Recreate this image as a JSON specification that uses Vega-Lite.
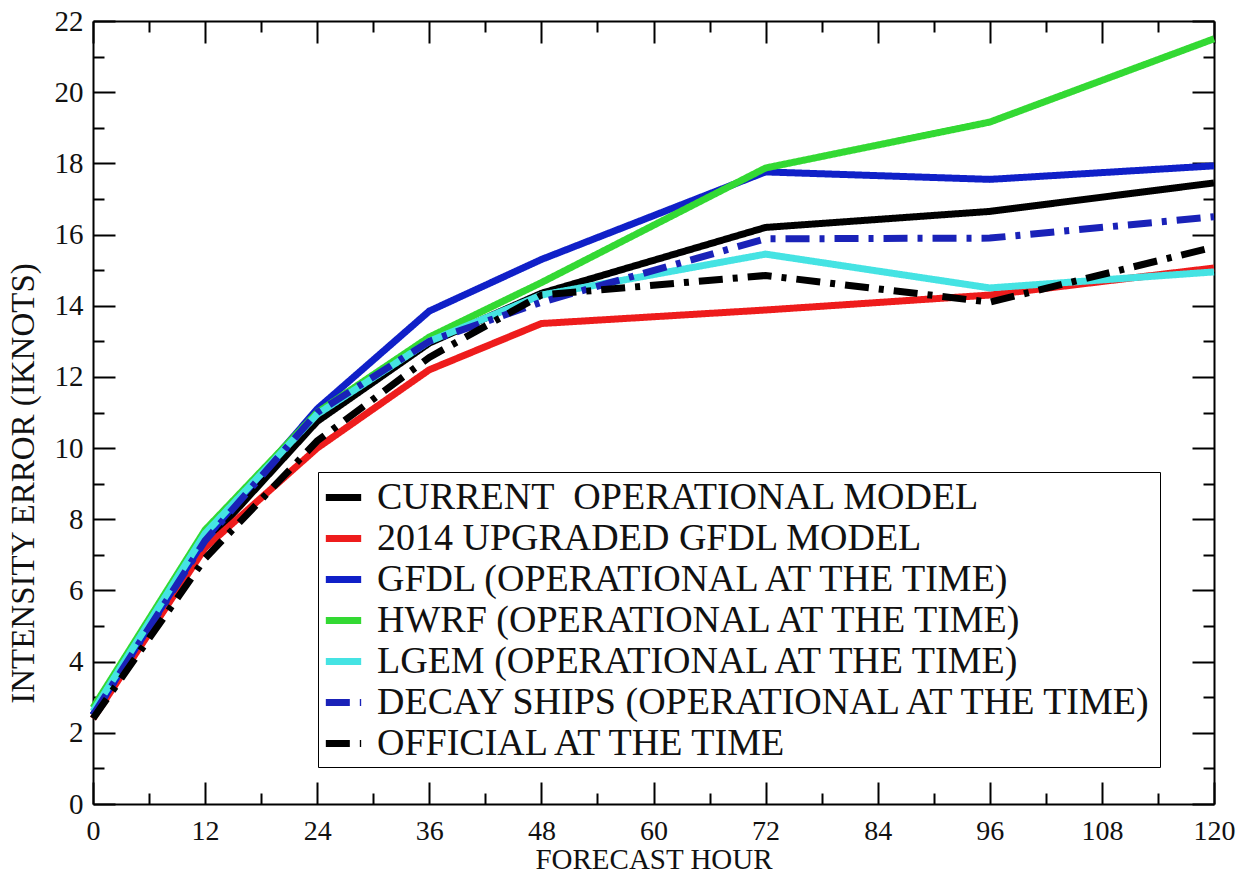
{
  "$schema": "https://vega.github.io/schema/vega-lite/v6.json",
  "autosize": "none",
  "width": 1121,
  "height": 783,
  "padding": {"left": 93, "top": 21, "right": 26, "bottom": 72},
  "background": "white",
  "config": {
    "view": {"stroke": null},
    "font": "Liberation Serif",
    "axis": {"grid": false, "domainColor": "black", "domainWidth": 2, "tickColor": "black", "tickWidth": 2, "labelFont": "Liberation Serif", "labelColor": "#111", "titleFont": "Liberation Serif", "titleColor": "#111", "titleFontWeight": "normal"}
  },
  "data": {
    "values": [
      {"hour": 0, "model": "CURRENT", "err": 2.5},
      {"hour": 12, "model": "CURRENT", "err": 7.3},
      {"hour": 24, "model": "CURRENT", "err": 10.75},
      {"hour": 36, "model": "CURRENT", "err": 12.95},
      {"hour": 48, "model": "CURRENT", "err": 14.35},
      {"hour": 72, "model": "CURRENT", "err": 16.2},
      {"hour": 96, "model": "CURRENT", "err": 16.65},
      {"hour": 120, "model": "CURRENT", "err": 17.45},
      {"hour": 0, "model": "UPGRADED", "err": 2.4},
      {"hour": 12, "model": "UPGRADED", "err": 7.2},
      {"hour": 24, "model": "UPGRADED", "err": 10.0},
      {"hour": 36, "model": "UPGRADED", "err": 12.2},
      {"hour": 48, "model": "UPGRADED", "err": 13.5},
      {"hour": 72, "model": "UPGRADED", "err": 13.88},
      {"hour": 96, "model": "UPGRADED", "err": 14.3},
      {"hour": 120, "model": "UPGRADED", "err": 15.06},
      {"hour": 0, "model": "GFDL", "err": 2.5},
      {"hour": 12, "model": "GFDL", "err": 7.45},
      {"hour": 24, "model": "GFDL", "err": 11.1},
      {"hour": 36, "model": "GFDL", "err": 13.85},
      {"hour": 48, "model": "GFDL", "err": 15.3},
      {"hour": 72, "model": "GFDL", "err": 17.76},
      {"hour": 96, "model": "GFDL", "err": 17.55},
      {"hour": 120, "model": "GFDL", "err": 17.93},
      {"hour": 0, "model": "HWRF", "err": 2.7},
      {"hour": 12, "model": "HWRF", "err": 7.7},
      {"hour": 24, "model": "HWRF", "err": 11.0},
      {"hour": 36, "model": "HWRF", "err": 13.12},
      {"hour": 48, "model": "HWRF", "err": 14.65},
      {"hour": 72, "model": "HWRF", "err": 17.87},
      {"hour": 96, "model": "HWRF", "err": 19.16},
      {"hour": 120, "model": "HWRF", "err": 21.5},
      {"hour": 0, "model": "LGEM", "err": 2.6},
      {"hour": 12, "model": "LGEM", "err": 7.6},
      {"hour": 24, "model": "LGEM", "err": 10.95},
      {"hour": 36, "model": "LGEM", "err": 13.0},
      {"hour": 48, "model": "LGEM", "err": 14.3},
      {"hour": 72, "model": "LGEM", "err": 15.45},
      {"hour": 96, "model": "LGEM", "err": 14.5},
      {"hour": 120, "model": "LGEM", "err": 14.95},
      {"hour": 0, "model": "DECAY", "err": 2.5},
      {"hour": 12, "model": "DECAY", "err": 7.4},
      {"hour": 24, "model": "DECAY", "err": 11.0},
      {"hour": 36, "model": "DECAY", "err": 13.0},
      {"hour": 48, "model": "DECAY", "err": 14.1},
      {"hour": 72, "model": "DECAY", "err": 15.88},
      {"hour": 96, "model": "DECAY", "err": 15.9},
      {"hour": 120, "model": "DECAY", "err": 16.5},
      {"hour": 0, "model": "OFFICIAL", "err": 2.4},
      {"hour": 12, "model": "OFFICIAL", "err": 6.9},
      {"hour": 24, "model": "OFFICIAL", "err": 10.2},
      {"hour": 36, "model": "OFFICIAL", "err": 12.55},
      {"hour": 48, "model": "OFFICIAL", "err": 14.3},
      {"hour": 72, "model": "OFFICIAL", "err": 14.85},
      {"hour": 96, "model": "OFFICIAL", "err": 14.1},
      {"hour": 120, "model": "OFFICIAL", "err": 15.65}
    ]
  },
  "layer": [
    {
      "mark": {"type": "line"},
      "encoding": {
        "x": {
          "field": "hour", "type": "quantitative",
          "scale": {"domain": [0, 120], "nice": false, "zero": false},
          "axis": {
            "orient": "bottom",
            "title": "FORECAST HOUR",
            "titleFontSize": 29,
            "titlePadding": 0,
            "values": [0, 12, 24, 36, 48, 60, 72, 84, 96, 108, 120],
            "labelFontSize": 28,
            "labelPadding": 35,
            "labelFlush": false,
            "labelOverlap": false,
            "tickSize": -22
          }
        },
        "y": {
          "field": "err", "type": "quantitative",
          "scale": {"domain": [0, 22], "nice": false, "zero": true},
          "axis": {
            "orient": "left",
            "title": "INTENSITY ERROR (IKNOTS)",
            "titleFontSize": 33,
            "titlePadding": 14,
            "titleY": 462,
            "values": [0, 2, 4, 6, 8, 10, 12, 14, 16, 18, 20, 22],
            "labelFontSize": 29,
            "labelPadding": 32,
            "labelFlush": false,
            "labelOverlap": false,
            "tickSize": -22
          }
        },
        "color": {
          "field": "model", "type": "nominal",
          "scale": {
            "domain": ["CURRENT", "UPGRADED", "GFDL", "HWRF", "LGEM", "DECAY", "OFFICIAL"],
            "range": ["#000000", "#ee1c1c", "#1020c8", "#33d933", "#45e3e3", "#1a22b8", "#000000"]
          },
          "legend": {
            "orient": "none",
            "legendX": 225,
            "legendY": 451,
            "title": null,
            "labelExpr": "datum.value == 'CURRENT' ? '\u00a0CURRENT\u00a0 OPERATIONAL MODEL' : datum.value == 'UPGRADED' ? '2014 UPGRADED GFDL MODEL' : datum.value == 'GFDL' ? 'GFDL (OPERATIONAL AT THE TIME)' : datum.value == 'HWRF' ? 'HWRF (OPERATIONAL AT THE TIME)' : datum.value == 'LGEM' ? 'LGEM (OPERATIONAL AT THE TIME)' : datum.value == 'DECAY' ? 'DECAY SHIPS (OPERATIONAL AT THE TIME)' : 'OFFICIAL AT THE TIME'",
            "labelFont": "Liberation Serif",
            "labelFontSize": 38,
            "labelColor": "#111",
            "labelLimit": 0,
            "labelOffset": 12,
            "symbolType": "stroke",
            "symbolSize": 1250,
            "symbolStrokeWidth": 8,
            "rowPadding": -4,
            "padding": 4,
            "strokeColor": "black",
            "fillColor": "white"
          }
        },
        "strokeDash": {
          "field": "model", "type": "nominal",
          "scale": {
            "domain": ["CURRENT", "UPGRADED", "GFDL", "HWRF", "LGEM", "DECAY", "OFFICIAL"],
            "range": [[1, 0], [1, 0], [1, 0], [1, 0], [1, 0], [24, 10, 5, 10], [24, 10, 5, 10]]
          },
          "legend": null
        },
        "strokeWidth": {
          "field": "model", "type": "nominal",
          "scale": {
            "domain": ["CURRENT", "UPGRADED", "GFDL", "HWRF", "LGEM", "DECAY", "OFFICIAL"],
            "range": [7, 7, 7, 7, 6, 6, 6]
          },
          "legend": null
        }
      }
    },
    {
      "mark": {"type": "line", "opacity": 0},
      "encoding": {
        "x": {
          "field": "hour", "type": "quantitative",
          "axis": {"orient": "bottom", "title": null, "labels": false, "domain": false, "values": [6, 18, 30, 42, 54, 66, 78, 90, 102, 114], "tickSize": -11}
        },
        "y": {
          "field": "err", "type": "quantitative",
          "axis": {"orient": "left", "title": null, "labels": false, "domain": false, "values": [1, 3, 5, 7, 9, 11, 13, 15, 17, 19, 21], "tickSize": -11}
        }
      }
    },
    {
      "mark": {"type": "line", "opacity": 0},
      "encoding": {
        "x": {
          "field": "hour", "type": "quantitative",
          "axis": {"orient": "top", "title": null, "labels": false, "values": [0, 12, 24, 36, 48, 60, 72, 84, 96, 108, 120], "tickSize": -22}
        },
        "y": {
          "field": "err", "type": "quantitative",
          "axis": {"orient": "right", "title": null, "labels": false, "values": [0, 2, 4, 6, 8, 10, 12, 14, 16, 18, 20, 22], "tickSize": -22}
        }
      }
    },
    {
      "mark": {"type": "line", "opacity": 0},
      "encoding": {
        "x": {
          "field": "hour", "type": "quantitative",
          "axis": {"orient": "top", "title": null, "labels": false, "domain": false, "values": [6, 18, 30, 42, 54, 66, 78, 90, 102, 114], "tickSize": -11}
        },
        "y": {
          "field": "err", "type": "quantitative",
          "axis": {"orient": "right", "title": null, "labels": false, "domain": false, "values": [1, 3, 5, 7, 9, 11, 13, 15, 17, 19, 21], "tickSize": -11}
        }
      }
    }
  ],
  "resolve": {"axis": {"x": "independent", "y": "independent"}}
}
